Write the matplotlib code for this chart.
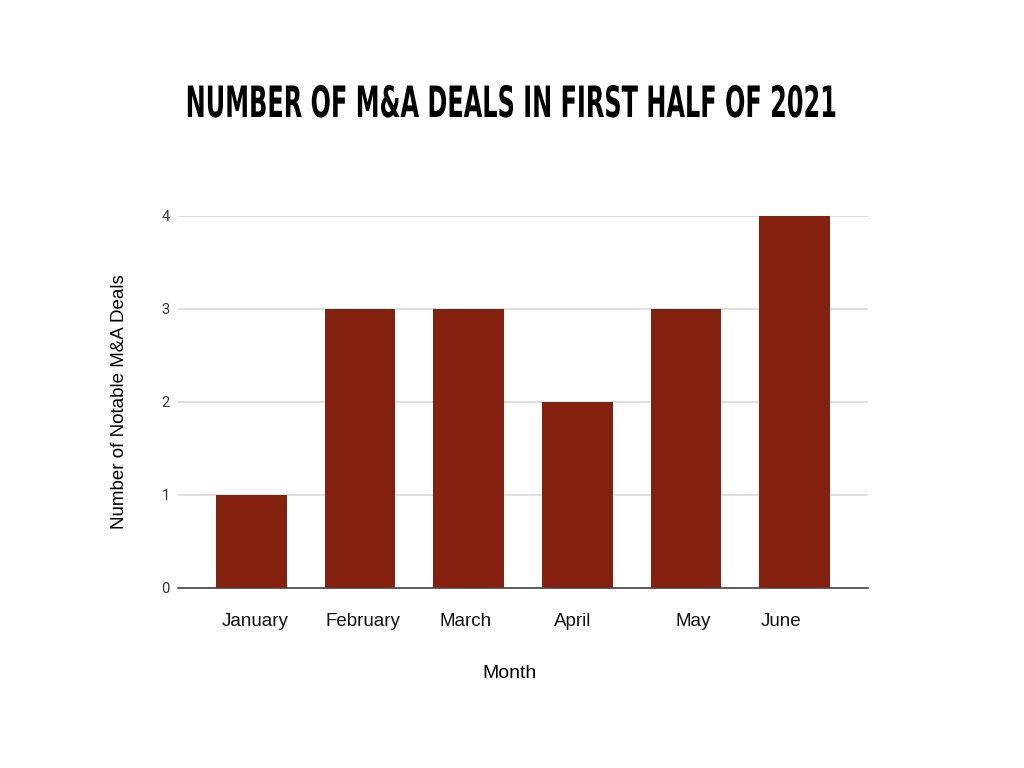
import numpy as np
from matplotlib import pyplot as plt
from matplotlib.patheffects import AbstractPathEffect
from matplotlib.transforms import Affine2D

months = ["January", "February", "March", "April", "May", "June"]
deals = [1, 3, 3, 2, 3, 4]
y_ticks = [0, 1, 2, 3, 4]
# small horizontal nudges of the month labels, as in the original
label_shift = [0.03, 0.03, -0.03, -0.04, 0.07, -0.12]

bar_color = "#84200e"


class TallText(AbstractPathEffect):
    # stretch glyphs vertically so a condensed font looks like a poster font
    def __init__(self, sy):
        super().__init__()
        self.sy = sy

    def draw_path(self, renderer, gc, tpath, affine, rgbFace=None):
        renderer.draw_path(gc, tpath, Affine2D().scale(1, self.sy) + affine, rgbFace)


fig = plt.figure(figsize=(10.24, 7.68), dpi=100)
ax = fig.add_axes([0.1738, 0.2344, 0.6738, 0.4844])

x = np.arange(len(months))
ax.bar(x, deals, width=0.65, color=bar_color, zorder=3)

ax.set_xlim(-0.676, len(months) - 1 + 0.676)
ax.set_ylim(0, 4)
ax.set_yticks(y_ticks)
ax.set_yticklabels([str(t) for t in y_ticks], fontsize=10.5, color="#333333",
                   family=["Roboto", "DejaVu Sans"])
ax.set_xticks(x + np.array(label_shift))
ax.set_xticklabels(months, fontsize=13.5, color="#111111", family=["Liberation Sans", "DejaVu Sans"])
ax.tick_params(axis="both", length=0)
ax.tick_params(axis="x", pad=18)
ax.tick_params(axis="y", pad=6)

ax.grid(axis="y", color="#d9d9d9", linewidth=1.2, zorder=0)
for side in ["top", "right", "left"]:
    ax.spines[side].set_visible(False)
ax.spines["bottom"].set_color("#444444")
ax.spines["bottom"].set_linewidth(1.2)
ax.spines["bottom"].set_zorder(4)

ax.set_xlabel("Month", fontsize=14, labelpad=25.5, family=["Liberation Sans", "DejaVu Sans"])
ax.xaxis.label.set_x(0.481)
ax.set_ylabel("Number of Notable M&A Deals", fontsize=13.5, labelpad=24,
              family=["Liberation Sans", "DejaVu Sans"])

fig.text(0.5, 1 - 117 / 768, "NUMBER OF M&A DEALS IN FIRST HALF OF 2021", ha="center", va="baseline",
         fontsize=19.2, fontweight="bold", fontstretch="condensed",
         family=["DejaVu Sans"], path_effects=[TallText(1.62)])

plt.savefig("out.png", dpi=100)
